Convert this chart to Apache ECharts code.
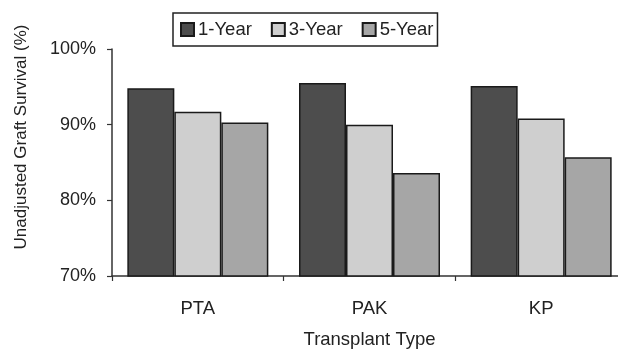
<!DOCTYPE html>
<html>
<head>
<meta charset="utf-8">
<script src="https://cdn.jsdelivr.net/npm/echarts@6/dist/echarts.min.js"></script>
<style>
  html, body { margin: 0; padding: 0; background: #fff; }
  #frame { position: relative; width: 618px; height: 354px; overflow: hidden; }
  #chart { position: absolute; left: 0; top: 0; width: 630px; height: 354px; }
</style>
</head>
<body>
<div id="frame"><div id="chart"></div></div>
<script>
// Graft survival by transplant type
const categories = ['PTA', 'PAK', 'KP'];
const seriesNames = ['1-Year', '3-Year', '5-Year'];
const oneYear = [94.8, 95.5, 95.1];
const threeYear = [91.7, 90.0, 90.8];
const fiveYear = [90.3, 83.6, 85.7];
const yTicks = [70, 80, 90, 100];

const fills = ['#4d4d4d', '#cfcfcf', '#a6a6a6'];
const font = 'Liberation Sans, Arial, sans-serif';

const chart = echarts.init(document.getElementById('chart'), null, { renderer: 'canvas' });

const values = [oneYear, threeYear, fiveYear];

chart.setOption({
  animation: false,
  backgroundColor: '#fff',
  textStyle: { fontFamily: font, color: '#222' },
  grid: { left: 112, top: 49, width: 515, height: 233, containLabel: false },
  legend: {
    data: seriesNames,
    left: 173,
    top: 13,
    orient: 'horizontal',
    icon: 'rect',
    itemWidth: 13,
    itemHeight: 13,
    itemGap: 19,
    padding: [7, 4, 7, 7],
    borderColor: '#222',
    borderWidth: 1.5,
    textStyle: { fontSize: 18.5, color: '#222', fontFamily: font, padding: [0, 0, 0, -1] }
  },
  xAxis: {
    type: 'category',
    data: categories,
    name: 'Transplant Type',
    nameLocation: 'middle',
    nameGap: 54,
    nameTextStyle: { fontSize: 18.5, color: '#222', fontFamily: font },
    axisLine: { lineStyle: { color: '#333', width: 1.5 } },
    axisTick: { show: true, length: 5, lineStyle: { color: '#333', width: 1.2 } },
    axisLabel: { fontSize: 18.5, color: '#222', margin: 23, fontFamily: font }
  },
  yAxis: {
    type: 'value',
    min: yTicks[0],
    max: yTicks[yTicks.length - 1],
    interval: 10,
    axisLine: { show: true, lineStyle: { color: '#333', width: 1.5 } },
    axisTick: { show: true, length: 5, lineStyle: { color: '#333', width: 1.2 } },
    splitLine: { show: false },
    axisLabel: { fontSize: 18, color: '#222', margin: 16, fontFamily: font, formatter: '{value}%' }
  },
  graphic: [{
    type: 'text',
    x: 21,
    y: 137,
    rotation: Math.PI / 2,
    style: {
      text: 'Unadjusted Graft Survival (%)',
      fontSize: 17,
      fontFamily: font,
      fill: '#222',
      align: 'center',
      verticalAlign: 'middle'
    }
  }],
  series: seriesNames.map((name, i) => ({
    name: name,
    type: 'bar',
    data: values[i],
    barWidth: 47,
    barGap: '0%',
    itemStyle: { color: fills[i], borderColor: '#1a1a1a', borderWidth: 1.5 }
  }))
});
</script>
</body>
</html>
